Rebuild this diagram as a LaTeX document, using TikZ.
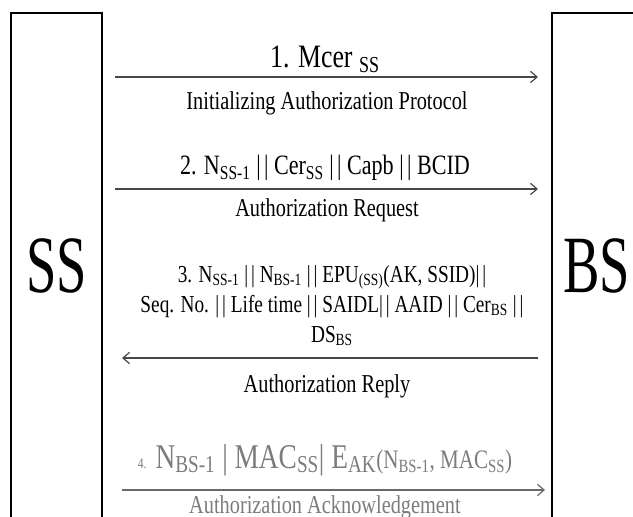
\documentclass[tikz,border=0pt]{standalone}
\usepackage{fontspec}
\setmainfont{Liberation Serif}[FakeStretch=0.79]
\usetikzlibrary{arrows.meta}
\definecolor{faded}{HTML}{7C7C7C}
% concatenation bars, set a little apart
\newcommand\cat{|\kern0.12em|}
\begin{document}
\begin{tikzpicture}[x=0.75pt,y=-0.75pt,
  partybox/.style={draw=black,line width=1.9pt,outer sep=0pt,inner sep=0pt,
    anchor=north west,minimum height=420pt},
  partyname/.style={inner sep=0pt,anchor=base,font=\fontsize{61}{61}\selectfont},
  msg/.style={inner sep=0pt,anchor=base},
  hdr/.style={msg,font=\fontsize{21}{24}\selectfont},
  caption/.style={msg,font=\fontsize{19.3}{21}\selectfont},
  flow/.style={draw=black!72,line width=0.9pt,-{Straight Barb[length=5pt,width=8.5pt]}},
  ]
\useasboundingbox (0,0) rectangle (633,517);
\fill[white] (0,0) rectangle (633,517);
\clip (0,0) rectangle (633,517);

% the two parties
\node[partybox,minimum width=68.25pt] (ss) at (11,13) {};
\node[partybox,minimum width=75pt] (bs) at (552,13) {};
\node[partyname] (ssname) at (56.5,292) {\scalebox{0.85}[1]{SS}};
\node[partyname] (bsname) at (596.5,292) {\scalebox{0.85}[1]{BS}};

% 1. initializing authorization protocol
\coordinate (a1s) at (115,77);
\coordinate (a1e) at (538,77);
\draw[flow] (a1s) -- (a1e);
\node[msg,font=\fontsize{24.5}{26}\selectfont] (m1) at (325,68) {1. Mcer \textsubscript{SS}};
\node[caption] (c1) at (327,110) {Initializing Authorization Protocol};

% 2. authorization request
\coordinate (a2s) at (115,189);
\coordinate (a2e) at (538,189);
\draw[flow] (a2s) -- (a2e);
\node[hdr] (m2) at (325,175) {2. N\textsubscript{SS-1} \cat{} Cer\textsubscript{SS} \cat{} Capb \cat{} BCID};
\node[caption] (c2) at (327,217) {Authorization Request};

% 3. authorization reply (base anchor sits on the last line)
\coordinate (a3s) at (538,358);
\coordinate (a3e) at (122,358);
\draw[flow] (a3s) -- (a3e);
\node[msg,align=center,font=\fontsize{18.3}{22.5}\selectfont] (m3) at (332,342)
  {3. N\textsubscript{SS-1} \cat{} N\textsubscript{BS-1} \cat{} EPU\textsubscript{(SS)}(AK, SSID)\cat\\
   Seq. No. \cat{} Life time \cat{} SAIDL\cat{} AAID \cat{} Cer\textsubscript{BS} \cat\\
   DS\textsubscript{BS}};
\node[caption] (c3) at (327,392) {Authorization Reply};

% 4. authorization acknowledgement
\coordinate (a4s) at (122,490);
\coordinate (a4e) at (545,490);
\draw[flow,draw=faded!85!black] (a4s) -- (a4e);
\node[msg,text=faded,font=\fontsize{26}{28}\selectfont] (m4) at (325,468)
  {{\fontsize{11}{11}\selectfont 4.} N\textsubscript{BS-1} | MAC\textsubscript{SS}| E\textsubscript{AK}{\fontsize{20}{22}\selectfont(N\textsubscript{BS-1}, MAC\textsubscript{SS})}};
\node[caption,text=faded] (c4) at (325,513) {Authorization Acknowledgement};
\end{tikzpicture}
\end{document}
